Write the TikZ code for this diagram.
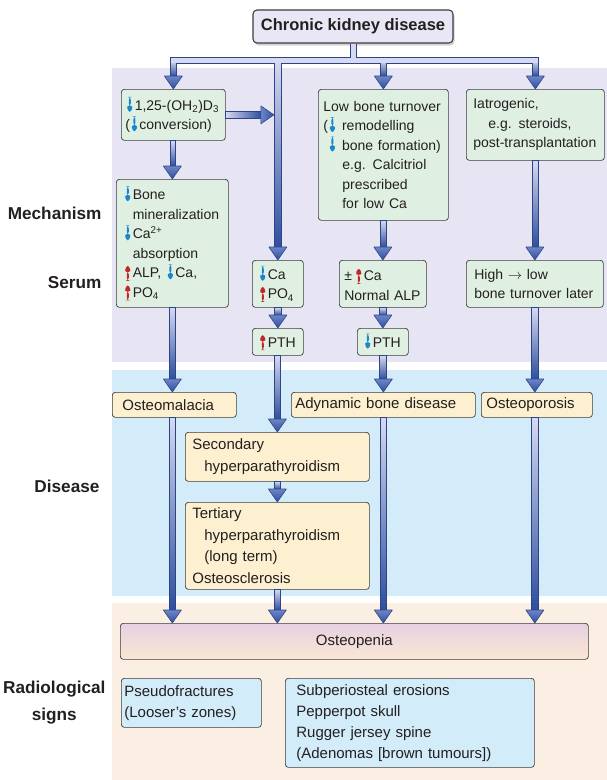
\documentclass[tikz,border=0pt]{standalone}
\usepackage{fontspec}
\setmainfont{Liberation Sans}
\usepackage{tikz}
\usetikzlibrary{calc,positioning,shadows}

\definecolor{ckdfill}{HTML}{E9E7F5}
\definecolor{mechband}{HTML}{E7E5F3}
\definecolor{disband}{HTML}{D4ECF9}
\definecolor{radband}{HTML}{FBEEE3}
\definecolor{mechfill}{HTML}{DFF0E3}
\definecolor{disfill}{HTML}{FDF0D0}
\definecolor{radfill}{HTML}{D3ECF9}
\definecolor{peniatop}{HTML}{E6D0E3}
\definecolor{peniabot}{HTML}{FAE7D3}
\definecolor{boxline}{HTML}{3C3C3C}
\definecolor{inktext}{HTML}{231F20}
\definecolor{tubelight}{HTML}{D6D9EF}
\definecolor{tubedark}{HTML}{2F4E9E}
\definecolor{tubeedge}{HTML}{2B4589}
\definecolor{headlight}{HTML}{6E86C8}
\definecolor{dnblue}{HTML}{1A86CC}
\definecolor{upred}{HTML}{C1272D}

% small coloured arrows used inside the boxes (#1 colour, #2 = 1 up / -1 down)
\newcommand\smallarrow[2]{%
  \begin{pgfpicture}
    \pgfsetbaseline{0pt}
    \pgfsetfillcolor{#1}
    \pgftransformshift{\pgfpoint{0pt}{5.25pt}}
    \pgftransformyscale{#2}
    \pgfpathrectangle{\pgfpoint{-1pt}{-8.25pt}}{\pgfpoint{2pt}{9.5pt}}
    \pgfusepath{fill}
    \pgfpathmoveto{\pgfpoint{-3.8pt}{0.8pt}}
    \pgfpathlineto{\pgfpoint{3.8pt}{0.8pt}}
    \pgfpathlineto{\pgfpoint{0pt}{8.25pt}}
    \pgfpathclose
    \pgfusepath{fill}
  \end{pgfpicture}}
\newcommand\dnar{\hspace{0.6pt}\smallarrow{dnblue}{-1}\hspace{1.2pt}}
\newcommand\upar{\hspace{0.6pt}\smallarrow{upred}{1}\hspace{1.2pt}}

% shaded tube arrows, the tip lands on #2
\newcommand\tube[2]{%
  \shadedraw[vshaft] ($(#1)+(-3.3pt,0)$) rectangle ($(#2)+(3.3pt,13pt)$);
  \shadedraw[vhead] ($(#2)+(-9pt,13pt)$) -- (#2) -- ($(#2)+(9pt,13pt)$) -- cycle;}
\newcommand\tubeh[2]{%
  \shadedraw[hshaft] ($(#1)+(0,-3.3pt)$) rectangle ($(#2)+(-13pt,3.3pt)$);
  \shadedraw[hhead] ($(#2)+(-13pt,9pt)$) -- (#2) -- ($(#2)+(-13pt,-9pt)$) -- cycle;}

\begin{document}
\begin{tikzpicture}[x=1pt,y=-1pt,
  box/.style={draw=boxline, line width=0.7pt, rounded corners=3pt, anchor=north west, align=left, text=inktext, inner ysep=3pt},
  mech/.style={box, fill=mechfill, inner xsep=6pt, font=\fontsize{14}{19.5}\selectfont},
  dis/.style={box, fill=disfill, inner xsep=6pt, font=\fontsize{15}{21.5}\selectfont},
  rad/.style={box, fill=radfill, inner xsep=6pt, font=\fontsize{15}{21}\selectfont},
  side/.style={anchor=east, align=center, text=inktext, font=\fontsize{17.2}{27}\selectfont\bfseries},
  vshaft/.style={top color=tubelight, bottom color=tubedark, draw=tubeedge, line width=0.6pt},
  hshaft/.style={left color=tubelight, right color=tubedark, draw=tubeedge, line width=0.6pt},
  vhead/.style={top color=headlight, bottom color=tubedark, draw=tubeedge, line width=0.6pt, line join=round},
  hhead/.style={left color=headlight, right color=tubedark, draw=tubeedge, line width=0.6pt, line join=round}]
\useasboundingbox (0,0) rectangle (607,780);

% bands
\fill[mechband] (112,68) rectangle (607,362);
\fill[disband] (112,370) rectangle (607,596);
\fill[radband] (112,603) rectangle (607,780);

\node (MECH) [side] at (105,213) {Mechanism};
\node (SER) [side] at (105,283) {Serum};
\node (DIS) [side] at (103,486) {Disease};
\node (RAD) [side] at (109,703) {Radiological\\signs};

\node (CKD) [draw=boxline, line width=1.1pt, fill=ckdfill, rounded corners=4pt, minimum width=200pt, minimum height=33pt, text=inktext, font=\fontsize{16.5}{20}\selectfont\bfseries, drop shadow={shadow xshift=1.5pt, shadow yshift=-2.5pt, opacity=0.35}] at (353,26.5) {Chronic kidney disease};

\node (VD) [mech, inner xsep=4pt, text width=96pt, minimum height=51pt] at (121,89) {\mbox{\dnar 1,25-(OH\textsubscript{2})D\textsubscript{3}}\\(\dnar conversion)};
\node (LBT) [mech, inner xsep=5pt, text width=120pt, minimum height=131pt] at (318,89) {Low bone turnover\\(\dnar\ remodelling\\\phantom{(}\dnar\ bone formation)\\\hspace*{19pt}e.g. Calcitriol\\\hspace*{19pt}prescribed\\\hspace*{19pt}for low Ca};
\node (IAT) [mech, inner xsep=7pt, text width=124pt, minimum height=71pt] at (466,89) {Iatrogenic,\\\hspace*{15pt}e.g. steroids,\\post-transplantation};
\node (BM) [mech, inner xsep=7pt, text width=98pt, minimum height=128pt] at (116,179) {\dnar Bone\\\phantom{\dnar}mineralization\\\dnar Ca\textsuperscript{2+}\\\phantom{\dnar}absorption\\\upar ALP, \dnar Ca,\\\upar PO\textsubscript{4}};
\node (CAP) [mech, text width=39pt, minimum height=47pt] at (252,260) {\dnar Ca\\\upar PO\textsubscript{4}};
\node (NALP) [mech, inner xsep=5pt, text width=77pt, minimum height=47pt] at (339,260) {±\,\upar Ca\\Normal ALP};
\node (HL) [mech, inner xsep=8pt, text width=121pt, minimum height=47pt] at (466,260) {High $\rightarrow$ low\\bone turnover later};
\node (PTHU) [mech, text width=39pt, minimum height=27pt] at (252,328) {\upar PTH};
\node (PTHD) [mech, text width=39pt, minimum height=27pt] at (357,328) {\dnar PTH};

\node (OM) [dis, inner xsep=10pt, text width=104pt, minimum height=25pt] at (112,392) {Osteomalacia};
\node (ABD) [dis, inner xsep=4pt, text width=176pt, minimum height=25pt] at (291,392) {Adynamic bone disease};
\node (OP) [dis, inner xsep=5pt, text width=101pt, minimum height=25pt] at (481,392) {Osteoporosis};
\node (SH) [dis, inner xsep=7pt, text width=170pt, minimum height=49pt] at (185,432) {Secondary\\\hspace*{12pt}hyperparathyroidism};
\node (TH) [dis, inner xsep=7pt, text width=170pt, minimum height=87pt] at (185,502) {Tertiary\\\hspace*{12pt}hyperparathyroidism\\\hspace*{12pt}(long term)\\Osteosclerosis};

\node (OPN) [box, top color=peniatop, bottom color=peniabot, align=center, minimum width=468pt, minimum height=36pt, font=\fontsize{15}{20}\selectfont] at (120,623) {Osteopenia};
\node (PF) [rad, inner xsep=3pt, text width=134pt, minimum height=49pt] at (121,678) {Pseudofractures\\(Looser's zones)};
\node (SE) [rad, inner xsep=11pt, text width=227pt, minimum height=89pt] at (285,678) {Subperiosteal erosions\\Pepperpot skull\\Rugger jersey spine\\(Adenomas [brown tumours])};

% feed from the top box
\coordinate (split) at ($(CKD.south)+(0,-17pt)$);
\draw[tubeedge, line width=7pt] (CKD.south) -- (split);
\draw[tubeedge, line width=7pt, line cap=rect] (VD.north |- split) -- (IAT.north |- split);
\tube{VD.north |- split}{VD.north}
\tube{CAP.north |- split}{CAP.north}
\tube{LBT.north |- split}{LBT.north}
\tube{IAT.north |- split}{IAT.north}
\draw[tubelight, line width=5pt] (CKD.south) -- (split);
\draw[tubelight, line width=5pt, line cap=rect] (VD.north |- split) -- (IAT.north |- split);

\coordinate (vdtip) at ($(CAP.north |- VD.east)+(-4pt,0)$);
\tubeh{VD.east}{vdtip}

\tube{VD.south}{BM.north}
\tube{LBT.south}{NALP.north}
\tube{IAT.south}{HL.north}
\tube{CAP.south}{PTHU.north}
\tube{NALP.south}{PTHD.north}
\tube{BM.south}{BM.south |- OM.north}
\tube{PTHU.south}{SH.north}
\tube{PTHD.south}{ABD.north}
\tube{HL.south}{HL.south |- OP.north}
\tube{SH.south}{TH.north}
\tube{BM.south |- OM.south}{BM.south |- OPN.north}
\tube{TH.south}{TH.south |- OPN.north}
\tube{ABD.south}{ABD.south |- OPN.north}
\tube{HL.south |- OP.south}{HL.south |- OPN.north}
\end{tikzpicture}
\end{document}
